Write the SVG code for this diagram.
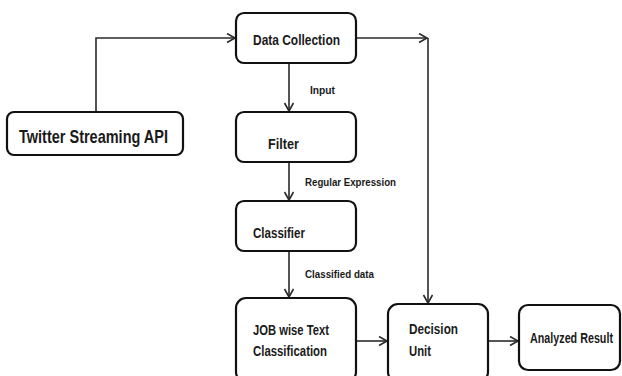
<svg xmlns="http://www.w3.org/2000/svg" width="622" height="376" viewBox="0 0 622 376">
  <style>
    .box { fill: #fff; stroke: #111; stroke-width: 2.2; }
    .lbl { font-family: "Liberation Sans", Arial, sans-serif; font-weight: bold; fill: #1a1a1a; }
    .big { font-size: 19px; }
    .mid { font-size: 15px; }
    .small { font-size: 11.5px; }
    .wire { fill: none; stroke: #2a2a2a; stroke-width: 1.6; }
  </style>
  <defs>
    <marker id="arr" markerUnits="userSpaceOnUse" markerWidth="12" markerHeight="12" refX="9" refY="5" orient="auto">
      <path d="M1,0.5 L9,5 L1,9.5" fill="none" stroke="#2a2a2a" stroke-width="1.6"/>
    </marker>
  </defs>
  <rect width="622" height="376" fill="#fff"/>

  <g id="connectors">
    <path class="wire" d="M96,112 V38 H235" marker-end="url(#arr)"/>
    <path class="wire" d="M356,38 H427" marker-end="url(#arr)"/>
    <path class="wire" d="M428,38 V303" marker-end="url(#arr)"/>
    <path class="wire" d="M289,63 V111" marker-end="url(#arr)"/>
    <path class="wire" d="M289,162 V200" marker-end="url(#arr)"/>
    <path class="wire" d="M289,251 V297" marker-end="url(#arr)"/>
    <path class="wire" d="M356,341 H387" marker-end="url(#arr)"/>
    <path class="wire" d="M488,341 H518" marker-end="url(#arr)"/>
    <text class="lbl small" x="310" y="94" textLength="25" lengthAdjust="spacingAndGlyphs">Input</text>
    <text class="lbl small" x="305" y="186" textLength="91" lengthAdjust="spacingAndGlyphs">Regular Expression</text>
    <text class="lbl small" x="305" y="278" textLength="69" lengthAdjust="spacingAndGlyphs">Classified data</text>
  </g>

  <g id="twitter">
    <rect class="box" x="7" y="112" width="176" height="43" rx="7"/>
    <text class="lbl big" x="19" y="143" textLength="149" lengthAdjust="spacingAndGlyphs">Twitter Streaming API</text>
  </g>

  <g id="data-collection">
    <rect class="box" x="236" y="13" width="120" height="50" rx="8"/>
    <text class="lbl mid" x="253" y="45" textLength="87" lengthAdjust="spacingAndGlyphs">Data Collection</text>
  </g>

  <g id="filter">
    <rect class="box" x="236" y="112" width="120" height="50" rx="8"/>
    <text class="lbl mid" x="268" y="149" textLength="31" lengthAdjust="spacingAndGlyphs">Filter</text>
  </g>

  <g id="classifier">
    <rect class="box" x="236" y="201" width="120" height="50" rx="8"/>
    <text class="lbl mid" x="253" y="238" textLength="52" lengthAdjust="spacingAndGlyphs">Classifier</text>
  </g>

  <g id="job-classification">
    <rect class="box" x="236" y="298" width="120" height="84" rx="10"/>
    <text class="lbl mid" x="253" y="335" textLength="76" lengthAdjust="spacingAndGlyphs">JOB wise Text</text>
    <text class="lbl mid" x="253" y="356" textLength="74" lengthAdjust="spacingAndGlyphs">Classification</text>
  </g>

  <g id="decision-unit">
    <rect class="box" x="388" y="304" width="100" height="78" rx="10"/>
    <text class="lbl mid" x="409" y="334" textLength="49" lengthAdjust="spacingAndGlyphs">Decision</text>
    <text class="lbl mid" x="409" y="356" textLength="22" lengthAdjust="spacingAndGlyphs">Unit</text>
  </g>

  <g id="analyzed-result">
    <rect class="box" x="519" y="305" width="101" height="65" rx="9"/>
    <text class="lbl mid" x="530" y="343" textLength="83" lengthAdjust="spacingAndGlyphs">Analyzed Result</text>
  </g>
</svg>
